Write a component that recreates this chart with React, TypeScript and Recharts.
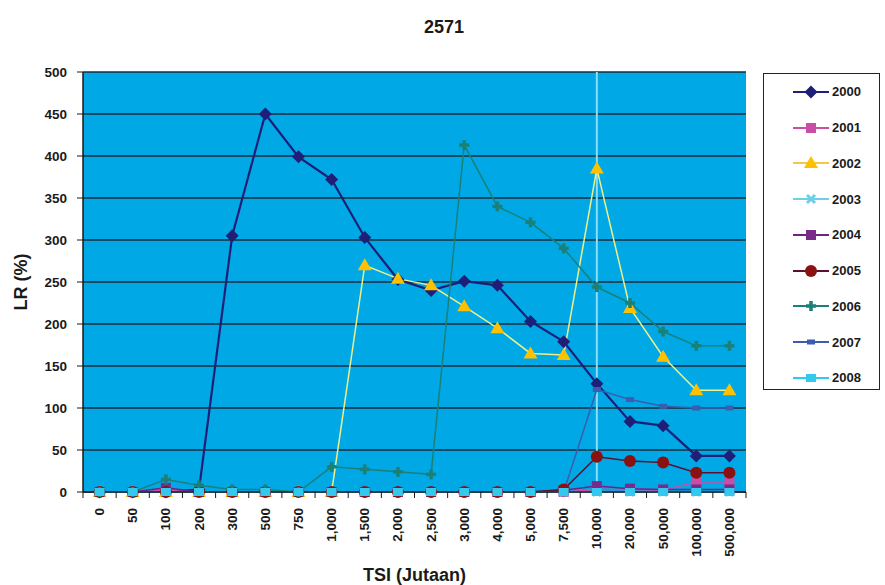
import { LineChart, Line, XAxis, YAxis, CartesianGrid, ReferenceLine, Legend } from "recharts"

// TSI categories (x axis) and LR (%) values per year
const categories = [
  "0", "50", "100", "200", "300", "500", "750", "1,000", "1,500", "2,000",
  "2,500", "3,000", "4,000", "5,000", "7,500", "10,000", "20,000", "50,000", "100,000", "500,000",
]
const lr2000 = [0, 0, 0, 3, 305, 450, 399, 372, 303, 253, 240, 251, 246, 203, 179, 129, 84, 79, 43, 43]
const lr2001 = [0, 0, 2, 0, 0, 0, 0, 0, 0, 0, 0, 0, 0, 0, 0, 3, 3, 2, 12, 12]
const lr2002 = [0, 0, 0, 0, 0, 0, 0, 0, 270, 254, 246, 221, 195, 165, 163, 385, 219, 161, 121, 121]
const lr2003 = [0, 0, 0, 0, 0, 0, 0, 0, 0, 0, 0, 0, 0, 0, 0, 0, 0, 0, 0, 0]
const lr2004 = [0, 0, 5, 0, 0, 0, 0, 0, 0, 0, 0, 0, 0, 0, 2, 7, 4, 3, 3, 3]
const lr2005 = [0, 0, 0, 0, 0, 0, 0, 0, 0, 0, 0, 0, 0, 0, 3, 42, 37, 35, 23, 23]
const lr2006 = [0, 0, 15, 8, 3, 3, 0, 30, 27, 24, 21, 413, 340, 321, 290, 244, 225, 191, 174, 174]
const lr2007 = [0, 0, 0, 0, 0, 0, 0, 0, 0, 0, 0, 0, 0, 0, 0, 122, 110, 102, 100, 100]
const lr2008 = [0, 0, 0, 0, 0, 0, 0, 0, 0, 0, 0, 0, 0, 0, 0, 0, 0, 0, 0, 0]
const yTicks = [0, 50, 100, 150, 200, 250, 300, 350, 400, 450, 500]

const FONT = "Arial, 'Liberation Sans', sans-serif"
const TEXT = "#1a1a1a"
const PLOT_BG = "#00a8e6"
const GRID = "#182c3a"
const HALF_BAND = 663 / 20 / 2
const LEGEND_W = 117

type Kind = "diamond" | "square" | "triangle" | "cross" | "circle" | "star" | "smallrect" | "rect"

const series: { key: string; label: string; line: string; fill: string; kind: Kind; width: number; values: number[] }[] = [
  { key: "y2000", label: "2000", line: "#1f1f78", fill: "#1f1f78", kind: "diamond", width: 2.2, values: lr2000 },
  { key: "y2001", label: "2001", line: "#c94fa6", fill: "#c94fa6", kind: "square", width: 1.5, values: lr2001 },
  { key: "y2002", label: "2002", line: "#eef08a", fill: "#ffc000", kind: "triangle", width: 1.5, values: lr2002 },
  { key: "y2003", label: "2003", line: "#6fcfe8", fill: "#6fcfe8", kind: "cross", width: 1.5, values: lr2003 },
  { key: "y2004", label: "2004", line: "#6e2480", fill: "#7a2a8a", kind: "square", width: 1.5, values: lr2004 },
  { key: "y2005", label: "2005", line: "#5a1030", fill: "#8b1010", kind: "circle", width: 1.5, values: lr2005 },
  { key: "y2006", label: "2006", line: "#1a8078", fill: "#1a8078", kind: "star", width: 1.5, values: lr2006 },
  { key: "y2007", label: "2007", line: "#3a5dae", fill: "#3a5dae", kind: "smallrect", width: 1.5, values: lr2007 },
  { key: "y2008", label: "2008", line: "#33c8ee", fill: "#33c8ee", kind: "rect", width: 1.5, values: lr2008 },
]

const data = categories.map((tsi, i) => {
  const row: Record<string, string | number> = { tsi }
  series.forEach((s) => (row[s.key] = s.values[i]))
  return row
})

function Marker({ kind, cx, cy, color }: { kind: Kind; cx: number; cy: number; color: string }) {
  switch (kind) {
    case "diamond":
      return <polygon points={`${cx},${cy - 6.5} ${cx + 6.5},${cy} ${cx},${cy + 6.5} ${cx - 6.5},${cy}`} fill={color} />
    case "square":
      return <rect x={cx - 5} y={cy - 5} width={10} height={10} fill={color} />
    case "triangle":
      return <polygon points={`${cx},${cy - 7} ${cx + 7},${cy + 5} ${cx - 7},${cy + 5}`} fill={color} />
    case "cross":
      return (
        <g stroke={color} strokeWidth={3}>
          <line x1={cx - 4} y1={cy - 4} x2={cx + 4} y2={cy + 4} />
          <line x1={cx - 4} y1={cy + 4} x2={cx + 4} y2={cy - 4} />
        </g>
      )
    case "circle":
      return <circle cx={cx} cy={cy} r={6} fill={color} />
    case "star":
      return (
        <g stroke={color} strokeWidth={3.5}>
          <line x1={cx - 5} y1={cy} x2={cx + 5} y2={cy} />
          <line x1={cx} y1={cy - 5} x2={cx} y2={cy + 5} />
        </g>
      )
    case "smallrect":
      return <rect x={cx - 4} y={cy - 2.5} width={8} height={5} fill={color} />
    case "rect":
      return <rect x={cx - 5} y={cy - 4} width={10} height={8} fill={color} />
  }
}

function XTick({ x, y, payload, index }: { x?: number; y?: number; payload?: { value: string }; index?: number }) {
  if (x == null || y == null || !payload) return null
  return (
    <g>
      <line x1={x - HALF_BAND} y1={y} x2={x - HALF_BAND} y2={y + 6} stroke={TEXT} />
      {index === categories.length - 1 && (
        <line x1={x + HALF_BAND} y1={y} x2={x + HALF_BAND} y2={y + 6} stroke={TEXT} />
      )}
      <text
        x={0}
        y={0}
        transform={`translate(${x},${y + 16}) rotate(-90)`}
        textAnchor="end"
        dominantBaseline="central"
        fontFamily={FONT}
        fontSize={13.5}
        fontWeight="bold"
        fill={TEXT}
      >
        {payload.value}
      </text>
    </g>
  )
}

function LegendBox() {
  return (
    <div
      style={{
        width: LEGEND_W,
        height: 317,
        border: "1px solid #222",
        boxSizing: "border-box",
        background: "#fff",
        paddingTop: 0,
      }}
    >
      {series.map((s) => (
        <div key={s.key} style={{ display: "flex", alignItems: "center", height: 35.75 }}>
          <svg width={36} height={16} style={{ marginLeft: 29 }}>
            <line x1={0} y1={8} x2={36} y2={8} stroke={s.kind === "triangle" ? "#f2c84a" : s.line} strokeWidth={2} />
            <Marker kind={s.kind} cx={18} cy={8} color={s.fill} />
          </svg>
          <span style={{ fontFamily: FONT, fontSize: 13, fontWeight: "bold", color: TEXT, marginLeft: 3 }}>
            {s.label}
          </span>
        </div>
      ))}
    </div>
  )
}

export default function App() {
  return (
    <div style={{ position: "absolute", left: 0, top: 0, width: 885, height: 585, background: "#fff" }}>
      <div
        style={{
          position: "absolute",
          left: 444,
          top: 17,
          transform: "translateX(-50%)",
          fontFamily: FONT,
          fontWeight: "bold",
          fontSize: 18,
          color: TEXT,
        }}
      >
        2571
      </div>
      <LineChart width={885} height={585} data={data} margin={{ top: 72, right: 139 - LEGEND_W, bottom: 0, left: 0 }}>
        <CartesianGrid fill={PLOT_BG} fillOpacity={1} stroke={GRID} strokeWidth={1.5} vertical={false} />
        <XAxis
          dataKey="tsi"
          interval={0}
          height={93}
          padding={{ left: HALF_BAND, right: HALF_BAND }}
          tickLine={false}
          tickSize={0}
          tickMargin={0}
          tick={<XTick />}
          axisLine={{ stroke: TEXT, strokeWidth: 1.5 }}
          label={{
            value: "TSI (Jutaan)",
            position: "insideBottom",
            offset: 4,
            style: { fontFamily: FONT, fontSize: 18, fontWeight: "bold", fill: TEXT },
          }}
        />
        <YAxis
          width={83}
          domain={[0, 500]}
          ticks={yTicks}
          interval={0}
          tickSize={6}
          tickMargin={10}
          tick={{ fontFamily: FONT, fontSize: 13.5, fontWeight: "bold", fill: TEXT }}
          tickLine={{ stroke: TEXT }}
          axisLine={{ stroke: TEXT, strokeWidth: 1.5 }}
          label={{
            value: "LR (%)",
            angle: -90,
            position: "insideLeft",
            offset: 21,
            style: { fontFamily: FONT, fontSize: 18, fontWeight: "bold", fill: TEXT, textAnchor: "middle" },
          }}
        />
        <YAxis yAxisId="edge" orientation="right" width={0} tick={false} tickLine={false} axisLine={{ stroke: TEXT, strokeWidth: 1.5 }} />
        <ReferenceLine x="10,000" stroke="#8fdcf5" strokeWidth={2} />
        {series.map((s) => (
          <Line
            key={s.key}
            dataKey={s.key}
            name={s.label}
            type="linear"
            stroke={s.line}
            strokeWidth={s.width}
            isAnimationActive={false}
            activeDot={false}
            dot={(p: { cx?: number; cy?: number; index?: number }) =>
              p.cx != null && p.cy != null ? (
                <g key={`${s.key}-${p.index}`}>
                  <Marker kind={s.kind} cx={p.cx} cy={p.cy} color={s.fill} />
                </g>
              ) : (
                <g key={`${s.key}-${p.index}`} />
              )
            }
          />
        ))}
        <Legend
          layout="vertical"
          align="right"
          verticalAlign="top"
          content={() => <LegendBox />}
          wrapperStyle={{ position: "absolute", left: 763, top: 73, width: LEGEND_W }}
        />
      </LineChart>
    </div>
  )
}
